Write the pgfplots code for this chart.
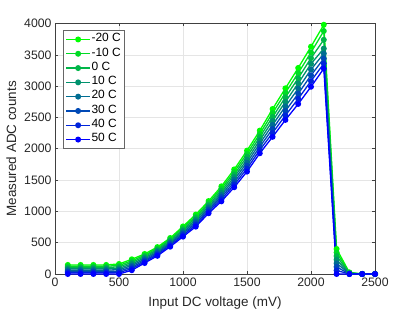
\documentclass[border=0pt]{standalone}
\usepackage{pgfplots}
\pgfplotsset{compat=1.18}
\usepackage{pgfplotstable}
\usepackage{fontspec}
\setmainfont{Liberation Sans}
\definecolor{c0}{rgb}{0,1,0}
\definecolor{c1}{rgb}{0,0.857,0.143}
\definecolor{c2}{rgb}{0,0.714,0.286}
\definecolor{c3}{rgb}{0,0.571,0.429}
\definecolor{c4}{rgb}{0,0.429,0.571}
\definecolor{c5}{rgb}{0,0.286,0.714}
\definecolor{c6}{rgb}{0,0.143,0.857}
\definecolor{c7}{rgb}{0,0,1}
\pgfplotstableread{
x    a    b    c    d    e    f    g    h
100  145  124  104  83   62   41   21   0
200  145  124  104  83   62   41   21   0
300  145  124  104  83   62   41   21   0
400  145  124  104  83   62   41   21   0
500  160  137  114  91   69   46   23   0
600  235  210  185  160  135  110  85   60
700  320  299  279  258  237  216  196  175
800  430  410  390  370  350  330  310  290
900  575  555  535  515  496  476  456  436
1000 760  737  713  690  666  643  619  596
1100 950  922  895  867  839  811  784  756
1200 1165 1137 1109 1081 1054 1026 998  970
1300 1400 1366 1331 1297 1263 1229 1194 1160
1400 1670 1629 1589 1548 1507 1466 1426 1385
1500 1970 1922 1874 1826 1779 1731 1683 1635
1600 2290 2238 2187 2135 2083 2031 1980 1928
1700 2635 2571 2508 2444 2381 2317 2254 2190
1800 2965 2893 2821 2749 2676 2604 2532 2460
1900 3290 3208 3126 3044 2961 2879 2797 2715
2000 3630 3539 3447 3356 3264 3173 3081 2990
2100 3980 3880 3740 3600 3520 3440 3360 3280
2200 400  343  286  229  171  114  57   0
2300 25   20   15   10   5    0    0    0
2400 0    0    0    0    0    0    0    0
2500 0    0    0    0    0    0    0    0
}\data
\begin{document}
\begin{tikzpicture}
\begin{axis}[
  scale only axis, width=320bp, height=250.5bp,
  at={(0,0)}, anchor=south west,
  xmin=0, xmax=2500, ymin=0, ymax=4000,
  xtick={0,500,1000,1500,2000,2500},
  ytick={0,500,1000,1500,2000,2500,3000,3500,4000},
  tick align=inside, major tick length=3bp,
  tick style={color=black!75, line width=0.5bp},
  axis line style={color=black!75, line width=0.6bp},
  grid=major, grid style={color=black!10, line width=0.5bp},
  /pgf/number format/assume math mode=true,
  /pgf/number format/1000 sep={},
  ticklabel style={font=\fontsize{12.3}{14}\selectfont, color=black!85},
  xlabel={Input DC voltage (mV)}, ylabel={Measured ADC counts},
  label style={font=\fontsize{13.5}{15}\selectfont, color=black!85},
  xlabel style={yshift=-4bp}, ylabel style={yshift=1bp},
  clip=false,
  every axis plot/.append style={line width=1.3bp, mark=*, mark size=2.3bp},
  legend cell align=left,
  legend style={at={(rel axis cs:0.024,0.974)}, anchor=north west,
    font=\fontsize{12}{13}\selectfont, draw=black!60, line width=0.6bp,
    inner xsep=2.5bp, inner ysep=2bp, row sep=0bp,
    nodes={inner xsep=0.8bp, inner ysep=0bp, text height=9.4bp, text depth=4.9bp}},
  legend image code/.code={\draw[mark repeat=2,mark phase=2] plot coordinates {(0bp,0bp)(12bp,0bp)(24bp,0bp)};},
]
\addplot[color=c0] table[x=x,y=a]{\data};
\addplot[color=c1] table[x=x,y=b]{\data};
\addplot[color=c2] table[x=x,y=c]{\data};
\addplot[color=c3] table[x=x,y=d]{\data};
\addplot[color=c4] table[x=x,y=e]{\data};
\addplot[color=c5] table[x=x,y=f]{\data};
\addplot[color=c6] table[x=x,y=g]{\data};
\addplot[color=c7] table[x=x,y=h]{\data};
\legend{-20 C\hspace{6bp},-10 C,0 C,10 C,20 C,30 C,40 C,50 C}
\end{axis}
\path[use as bounding box] (-55bp,-38bp) rectangle (360bp,274bp);
\end{tikzpicture}
\end{document}
